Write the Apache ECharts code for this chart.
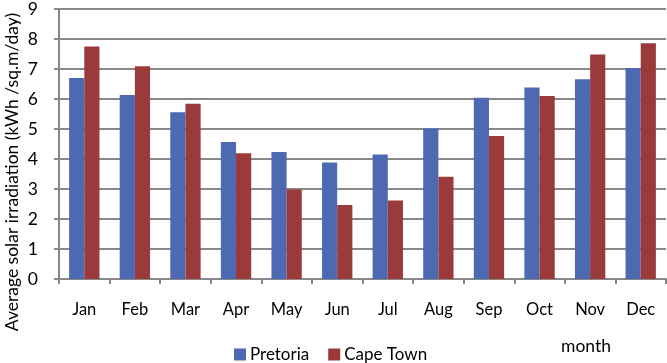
<!DOCTYPE html>
<html>
<head>
<meta charset="utf-8">
<script src="https://cdn.jsdelivr.net/npm/echarts@6/dist/echarts.min.js"></script>
<style>
html,body{margin:0;padding:0;background:#fff;}
#chart{width:667px;height:363px;}
</style>
</head>
<body>
<div id="chart"></div>
<script>
var months = ['Jan','Feb','Mar','Apr','May','Jun','Jul','Aug','Sep','Oct','Nov','Dec'];
var pretoria = [6.70, 6.13, 5.56, 4.57, 4.23, 3.88, 4.15, 5.02, 6.04, 6.38, 6.66, 7.03];
var capeTown = [7.75, 7.09, 5.84, 4.19, 2.98, 2.47, 2.62, 3.41, 4.77, 6.10, 7.48, 7.86];
var yTicks = {min: 0, max: 9, step: 1};

var FONT = 'Lato';
var chart = echarts.init(document.getElementById('chart'), null, {renderer: 'canvas'});
chart.setOption({
  animation: false,
  backgroundColor: '#fff',
  textStyle: {fontFamily: FONT},
  grid: {left: 59, right: 1, top: 7, bottom: 84, containLabel: false},
  legend: {
    left: 229, top: 341,
    itemWidth: 12, itemHeight: 12, itemGap: 19,
    icon: 'rect',
    textStyle: {fontFamily: FONT, fontSize: 17, color: '#000', padding: [0,0,0,-1]},
    data: ['Pretoria', 'Cape Town']
  },
  xAxis: {
    type: 'category',
    data: months,
    axisLine: {show: true, lineStyle: {color: '#888', width: 2}},
    axisTick: {show: true, length: 5, lineStyle: {color: '#888', width: 2}},
    axisLabel: {fontFamily: FONT, fontSize: 16.5, color: '#000', margin: 22},
    splitLine: {show: false}
  },
  yAxis: {
    type: 'value',
    min: yTicks.min, max: yTicks.max, interval: yTicks.step,
    axisLine: {show: true, lineStyle: {color: '#888', width: 2}},
    axisTick: {show: true, length: 5, lineStyle: {color: '#888', width: 2}},
    axisLabel: {fontFamily: FONT, fontSize: 17.5, color: '#000', margin: 21},
    splitLine: {show: true, lineStyle: {color: '#888', width: 2}}
  },
  graphic: [
    {type: 'text', x: 12, y: 172, rotation: Math.PI/2,
     style: {text: 'Average solar irradiation (kWh /sq.m/day)', fontFamily: FONT, fontSize: 17.5,
             fill: '#000', textAlign: 'center', textVerticalAlign: 'middle'}},
    {type: 'text', x: 586, y: 346,
     style: {text: 'month', fontFamily: FONT, fontSize: 17.5, fill: '#000',
             textAlign: 'center', textVerticalAlign: 'middle'}}
  ],
  series: [
    {name: 'Pretoria', type: 'bar', data: pretoria, barGap: '0%', barCategoryGap: '40%',
     itemStyle: {color: '#4c69b1'}},
    {name: 'Cape Town', type: 'bar', data: capeTown, barGap: '0%', barCategoryGap: '40%',
     itemStyle: {color: '#9b3a3b'}}
  ]
});
</script>
</body>
</html>
